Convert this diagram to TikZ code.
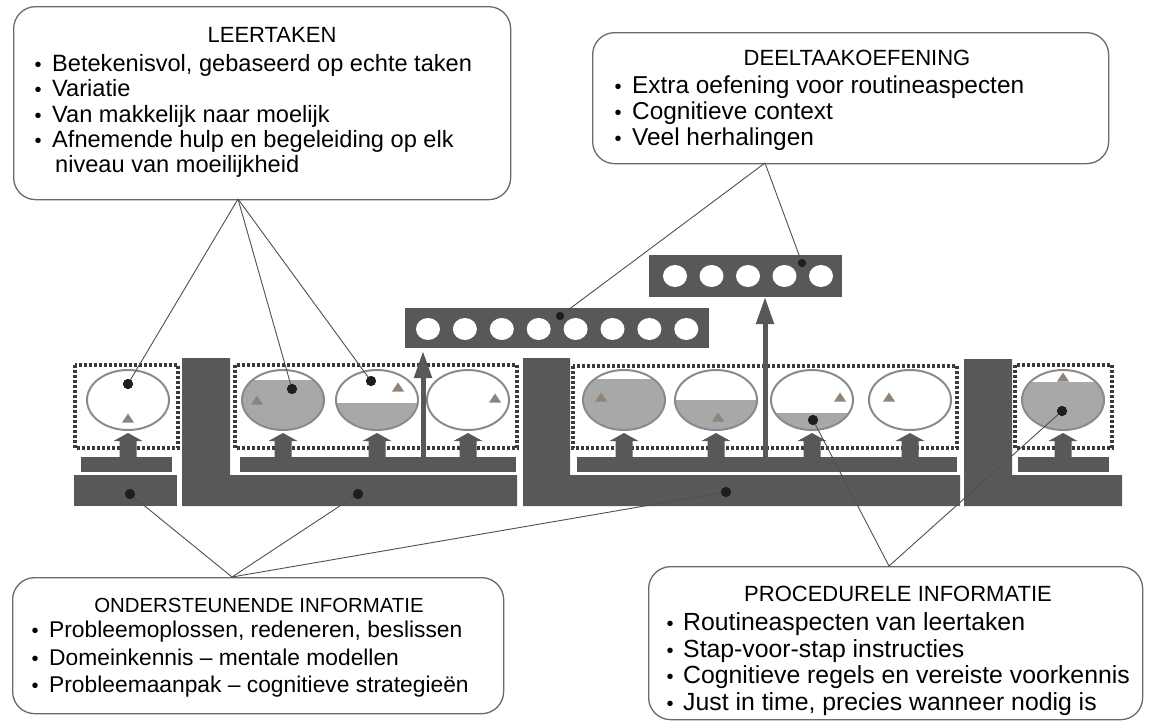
\documentclass[tikz,border=0pt]{standalone}
\usepackage{fontspec}
\setmainfont{Liberation Sans}
\usetikzlibrary{arrows.meta}
\definecolor{barc}{HTML}{585858}
\definecolor{fillc}{HTML}{A8A8A8}
\definecolor{rimc}{HTML}{8A8A8A}
\definecolor{tric}{HTML}{908478}
\definecolor{dotc}{HTML}{1E1E1E}
\definecolor{linec}{HTML}{505050}
\definecolor{boxc}{HTML}{6A6A6A}
\definecolor{dotboxc}{HTML}{3A3A3A}
\newcommand\bul{{\fontsize{20}{20}\selectfont •}}
\newcommand\vessel[2]{%
  \fill[white] (#1,400) ellipse [x radius=41pt, y radius=30pt];
  \begin{scope}
    \clip (#1,400) ellipse [x radius=41pt, y radius=30pt];
    \fill[fillc] (#1-45,#2) rectangle (#1+45,435);
  \end{scope}
  \draw[vessel] (#1,400) ellipse [x radius=41pt, y radius=30pt];}
\begin{document}
\begin{tikzpicture}[x=1pt,y=-1pt,
  dotframe/.style={draw=dotboxc,line width=3.4pt,dash pattern=on 3pt off 2pt},
  vessel/.style={draw=rimc,line width=2pt},
  conn/.style={draw=linec,line width=0.9pt},
  infobox/.style={draw=boxc,line width=1.3pt,rounded corners=22pt,fill=white,anchor=north west,inner sep=0pt},
  ttl/.style={anchor=base,inner sep=0pt,font=\fontsize{22}{22}\selectfont},
  itm/.style={anchor=base west,inner sep=0pt},
  ltf/.style={font=\fontsize{23.6}{24}\selectfont},
  dtf/.style={font=\fontsize{24.4}{25}\selectfont},
  oif/.style={font=\fontsize{22.8}{23}\selectfont},
  pif/.style={font=\fontsize{24.8}{25}\selectfont},
  bigdot/.style={circle,fill=dotc,inner sep=0pt,minimum size=10pt},
  smalldot/.style={circle,fill=dotc,inner sep=0pt,minimum size=8pt},
  tallarrow/.style={draw=barc,line width=5pt,-{Triangle[width=17pt,length=27pt]}},
  fatarrow/.pic={\fill[barc] (-8.5,0) -- (-8.5,-16) -- (-14.5,-16) -- (0,-24) -- (14.5,-16) -- (8.5,-16) -- (8.5,0) -- cycle;},
  tri/.pic={\fill[tric] (-6,4.5) -- (6,4.5) -- (0,-4.5) -- cycle;},
]
\useasboundingbox (0,0) rectangle (1153,723);
\fill[white] (0,0) rectangle (1153,723);

% dotted frames
\draw[dotframe] (75,365) rectangle (178,448);
\draw[dotframe] (235,365) rectangle (517,448);
\draw[dotframe] (573,366) rectangle (957,448);
\draw[dotframe] (1015,365) rectangle (1112,448);

% vessels
\vessel{128}{440}
\vessel{283}{380}
\vessel{377}{403}
\vessel{468}{440}
\vessel{624}{379}
\vessel{716}{400}
\vessel{812}{413}
\vessel{910}{440}
\vessel{1063}{382}

% triangles
\pic at (128,418) {tri};
\pic at (257,400) {tri};
\pic at (398,387) {tri};
\pic at (495,398) {tri};
\pic at (601,397) {tri};
\pic at (718,417) {tri};
\pic at (840,397) {tri};
\pic at (889,397) {tri};
\pic at (1063,377) {tri};

% thin bars
\fill[barc] (81,457) rectangle (172,472);
\fill[barc] (240,457) rectangle (516,472);
\fill[barc] (577,457) rectangle (957,472);
\fill[barc] (1018,457) rectangle (1109,472);

% fat arrows
\foreach \ax in {128,283,377,468,624,716,812,910,1063}
  \pic at (\ax,457) {fatarrow};

% bottom bars and L shapes
\fill[barc] (74,475) rectangle (177,506);
\fill[barc] (182,358) -- (230,358) -- (230,475) -- (517,475) -- (517,506) -- (182,506) -- cycle;
\fill[barc] (523,358) -- (570,358) -- (570,475) -- (960,475) -- (960,506) -- (523,506) -- cycle;
\fill[barc] (964,359) -- (1012,359) -- (1012,475) -- (1122,475) -- (1122,506) -- (964,506) -- cycle;

% part-task rows
\fill[barc] (405,308) rectangle (709,348);
\foreach \i in {0,...,7}
  \fill[white] (428+36.9*\i,329) ellipse [x radius=12pt, y radius=11pt];
\fill[barc] (649,255) rectangle (842,297);
\foreach \i in {0,...,4}
  \fill[white] (675+36.5*\i,276) ellipse [x radius=12pt, y radius=11pt];

% tall arrows
\coordinate (ta1s) at (423,457); \coordinate (ta1e) at (423,351);
\coordinate (ta2s) at (765,457); \coordinate (ta2e) at (765,297);
\draw[tallarrow] (ta1s) -- (ta1e);
\draw[tallarrow] (ta2s) -- (ta2e);

% info boxes
\node[infobox, minimum width=497pt, minimum height=193pt] (lt) at (13,6) {};
\node[infobox, minimum width=516pt, minimum height=131pt] (dt) at (592,32) {};
\node[infobox, minimum width=491pt, minimum height=136pt] (oi) at (12,577) {};
\node[infobox, minimum width=494pt, minimum height=153pt] (pi) at (648,566) {};

% apex coordinates
\coordinate (lta) at (238,199);
\coordinate (dta) at (765,163);
\coordinate (oia) at (232,577);
\coordinate (pia) at (889,566);

% dots
\node[bigdot] (d1) at (128,384) {};
\node[bigdot] (d2) at (292,389) {};
\node[bigdot] (d3) at (371,381) {};
\node[smalldot] (r8) at (560,316) {};
\node[smalldot] (r5) at (802,263) {};
\node[bigdot] (b1) at (130,494) {};
\node[bigdot] (b2) at (358,494) {};
\node[bigdot] (b3) at (726,492) {};
\node[bigdot] (d7) at (813,420) {};
\node[bigdot] (d10) at (1062,411) {};

% connectors
\foreach \t in {d1,d2,d3} \draw[conn] (lta) -- (\t.center);
\foreach \t in {r8,r5} \draw[conn] (dta) -- (\t.center);
\foreach \t in {b1,b2,b3} \draw[conn] (oia) -- (\t.center);
\foreach \t in {d7,d10} \draw[conn] (pia) -- (\t.center);
\foreach \t in {d1,d2,d3,d7,d10,b1,b2,b3} \fill[dotc] (\t) circle (5pt);
\foreach \t in {r8,r5} \fill[dotc] (\t) circle (4pt);

% texts: LEERTAKEN
\node[ttl] (ltt) at (272,42) {LEERTAKEN};
\node[itm,ltf] (lt1) at (24,71.5) {\makebox[28pt]{\bul}Betekenisvol, gebaseerd op echte taken};
\node[itm,ltf] (lt2) at (24,96.8) {\makebox[28pt]{\bul}Variatie};
\node[itm,ltf] (lt3) at (24,122) {\makebox[28pt]{\bul}Van makkelijk naar moelijk};
\node[itm,ltf] (lt4) at (24,147.3) {\makebox[28pt]{\bul}Afnemende hulp en begeleiding op elk};
\node[itm,ltf] (lt5) at (55,172.6) {niveau van moeilijkheid};

% DEELTAAKOEFENING
\node[ttl] (dtt) at (857,65) {DEELTAAKOEFENING};
\node[itm,dtf] (dt1) at (604,93) {\makebox[28pt]{\bul}Extra oefening voor routineaspecten};
\node[itm,dtf] (dt2) at (604,119) {\makebox[28pt]{\bul}Cognitieve context};
\node[itm,dtf] (dt3) at (604,145) {\makebox[28pt]{\bul}Veel herhalingen};

% ONDERSTEUNENDE INFORMATIE
\node[ttl,font=\fontsize{20.4}{21}\selectfont] (oit) at (259,612) {ONDERSTEUNENDE INFORMATIE};
\node[itm,oif] (oi1) at (21,637) {\makebox[28pt]{\bul}Probleemoplossen, redeneren, beslissen};
\node[itm,oif] (oi2) at (21,665) {\makebox[28pt]{\bul}Domeinkennis – mentale modellen};
\node[itm,oif] (oi3) at (21,692) {\makebox[28pt]{\bul}Probleemaanpak – cognitieve strategieën};

% PROCEDURELE INFORMATIE
\node[ttl] (pit) at (898,601) {PROCEDURELE INFORMATIE};
\node[itm,pif] (pi1) at (657,630) {\makebox[26pt]{\bul}Routineaspecten van leertaken};
\node[itm,pif] (pi2) at (657,657) {\makebox[26pt]{\bul}Stap-voor-stap instructies};
\node[itm,pif] (pi3) at (657,683) {\makebox[26pt]{\bul}Cognitieve regels en vereiste voorkennis};
\node[itm,pif] (pi4) at (657,710) {\makebox[26pt]{\bul}Just in time, precies wanneer nodig is};
\end{tikzpicture}
\end{document}
